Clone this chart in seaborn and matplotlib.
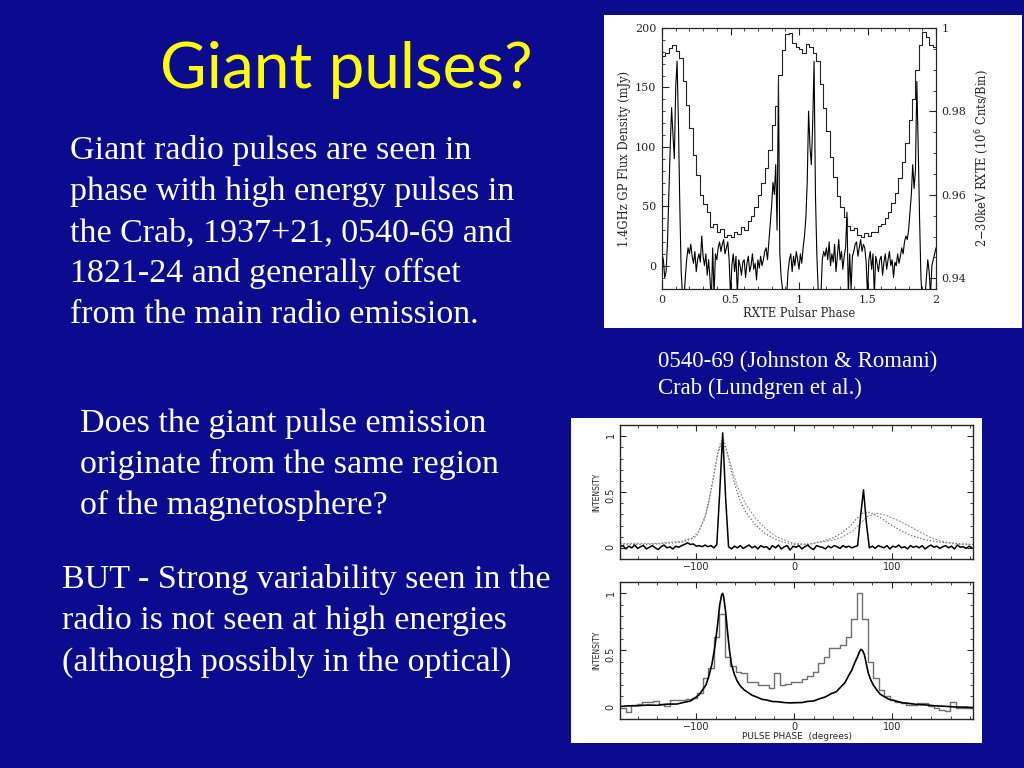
import numpy as np
import matplotlib
matplotlib.use("Agg")
from matplotlib import pyplot as plt
from matplotlib.patches import Rectangle
from matplotlib.ticker import MultipleLocator
import seaborn as sns

sns.set_style("ticks")
plt.rcParams['font.family'] = ['DejaVu Sans']

BG = '#0b0b8f'

# ---- slide text ----
title = "Giant pulses?"
block1 = ["Giant radio pulses are seen in",
          "phase with high energy pulses in",
          "the Crab, 1937+21, 0540-69 and",
          "1821-24 and generally offset",
          "from the main radio emission."]
block2 = ["Does the giant pulse emission",
          "originate from the same region",
          "of the magnetosphere?"]
block3 = ["BUT - Strong variability seen in the",
          "radio is not seen at high energies",
          "(although possibly in the optical)"]
caption = ["0540-69 (Johnston & Romani)", "Crab (Lundgren et al.)"]

# ---- PSR 0540-69: giant pulse flux (mJy), phase step 0.01 from 0 to 2 ----
radio_flux = [10, 5, -10, -5, 20, 60, 100, 133, 110, 90,
              150, 172, 120, 50, -5, -25, -30, -10, 5, 15,
              10, 18, 8, 2, 12, -5, 5, 10, 3, 25,
              8, 0, 10, -8, 5, -10, -30, 15, -25, 10,
              5, 15, 20, 12, 18, 22, 10, 15, 20, 5,
              -25, 0, 10, -5, 8, -25, 5, 0, -8, 3,
              5, -10, 2, 8, -5, 0, 10, -3, 2, -12,
              5, -2, 8, 0, 5, 12, 15, 5, 20, 35,
              50, 70, 60, 85, 30, 155, 10, -10, -20, -30,
              -30, -25, -5, 5, 10, -5, 8, 0, 12, 5,
              -3, 10, 2, 15, 25, 40, 70, 130, 100, 85,
              120, 172, 60, 10, -20, -30, -25, 5, 12, 8,
              15, 5, 20, 0, 10, 3, 18, -5, 8, 22,
              5, 12, -3, 8, 15, 45, -25, 10, -20, 8,
              12, 18, 20, 8, 15, 22, 12, 18, 15, 3,
              -25, 5, 12, -3, 10, -25, 8, 2, -5, 5,
              8, -8, 3, 10, -3, 5, 12, 0, 5, -10,
              3, 0, 10, 2, 8, 15, 10, 20, 25, 22,
              30, 45, 60, 85, 65, 80, 155, 100, 40, -10,
              -30, -28, -25, -10, 5, -5, -25, 0, 5, 10,
              15]
radio_phase = np.linspace(0, 2, len(radio_flux))

# RXTE 2-30 keV counts (10^6 cnts/bin), bins of 0.025 in phase
rxte_counts = [0.9934, 0.9940, 0.9952, 0.9960, 0.9945, 0.9928, 0.9872, 0.9815, 0.9760, 0.9695,
               0.9648, 0.9600, 0.9578, 0.9560, 0.9522, 0.9530, 0.9512, 0.9518, 0.9500, 0.9505,
               0.9498, 0.9510, 0.9506, 0.9522, 0.9515, 0.9538, 0.9550, 0.9572, 0.9600, 0.9628,
               0.9665, 0.9708, 0.9768, 0.9812, 0.9888, 0.9948, 0.9985, 0.9988, 0.9965, 0.9955,
               0.9950, 0.9940, 0.9962, 0.9955, 0.9940, 0.9920, 0.9865, 0.9808, 0.9752, 0.9690,
               0.9642, 0.9598, 0.9570, 0.9548, 0.9525, 0.9515, 0.9520, 0.9505, 0.9498, 0.9508,
               0.9502, 0.9512, 0.9510, 0.9525, 0.9530, 0.9545, 0.9560, 0.9580, 0.9605, 0.9640,
               0.9680, 0.9725, 0.9780, 0.9830, 0.9900, 0.9960, 0.9990, 0.9978, 0.9960, 0.9955]
rxte_edges = np.linspace(0, 2, len(rxte_counts) + 1)

# ---- Crab (Lundgren et al.) ----
# giant pulses, phase grid -178..182 deg step 3
crab_gp = [0.01, 0.02, -0.01, 0.015, 0.0, 0.025, -0.005, 0.01, 0.02, -0.01,
           0.005, 0.02, 0.0, -0.015, 0.01, 0.025, 0.0, 0.01, -0.01, 0.015,
           0.005, 0.02, 0.03, 0.045, 0.03, 0.035, 0.015, 0.02, 0.01, 0.025,
           0.01, 0.02, 0.0, 0.03, 0.5, 1.03, 0.45, 0.01, -0.01, 0.015,
           0.0, 0.02, -0.005, 0.01, 0.025, 0.0, 0.015, -0.01, 0.02, 0.005,
           0.01, -0.015, 0.02, 0.0, 0.025, -0.01, 0.01, 0.02, -0.02, 0.015,
           0.005, 0.02, -0.01, 0.01, 0.025, 0.0, -0.015, 0.02, 0.01, 0.005,
           -0.01, 0.015, 0.0, 0.02, 0.01, -0.005, 0.02, 0.005, 0.015, 0.0,
           0.01, 0.02, 0.28, 0.52, 0.22, 0.0, 0.015, -0.005, 0.02, 0.01,
           0.0, 0.02, -0.01, 0.015, 0.005, 0.025, 0.0, 0.01, -0.01, 0.02,
           0.005, 0.015, 0.0, 0.02, -0.01, 0.01, 0.025, 0.005, 0.015, -0.005,
           0.01, 0.02, 0.0, 0.015, -0.01, 0.025, 0.005, 0.01, -0.005, 0.015, 0.0]
crab_gp_phase = np.linspace(-178, 182, len(crab_gp))

# high energy profiles (dotted and dashed)
crab_dot_phase = [-178, -150, -130, -115, -105, -98, -92, -87, -82, -78, -75, -72, -69, -65, -60,
                  -55, -50, -40, -30, -20, -10, 0, 10, 20, 30, 40, 50, 58, 64, 70, 76, 82, 90,
                  100, 110, 120, 135, 150, 165, 183]
crab_dot = [0.03, 0.03, 0.04, 0.05, 0.08, 0.14, 0.25, 0.42, 0.65, 0.85, 0.95, 0.97, 0.88, 0.72, 0.55,
            0.42, 0.33, 0.21, 0.13, 0.08, 0.05, 0.03, 0.03, 0.04, 0.06, 0.09, 0.14, 0.2, 0.26, 0.31,
            0.32, 0.3, 0.26, 0.2, 0.15, 0.11, 0.07, 0.05, 0.04, 0.03]
crab_dash_phase = [-178, -140, -115, -100, -90, -83, -78, -74, -70, -65, -58, -50, -40, -30, -20,
                   -10, 0, 15, 25, 40, 50, 60, 68, 75, 85, 95, 110, 125, 140, 155, 170, 183]
crab_dash = [0.04, 0.04, 0.06, 0.1, 0.3, 0.6, 0.85, 0.93, 0.9, 0.75, 0.55, 0.4, 0.27, 0.18, 0.11,
             0.07, 0.04, 0.03, 0.05, 0.07, 0.1, 0.15, 0.22, 0.28, 0.31, 0.29, 0.23, 0.16, 0.09,
             0.05, 0.03, 0.03]

# lower panel: histogram (64 bins over 360 deg) and smooth profile
crab_hist = [0.0, -0.035, 0.025, 0.03, 0.045, 0.05, 0.06, 0.03, 0.01, 0.07,
             0.07, 0.07, 0.075, 0.08, 0.13, 0.26, 0.35, 0.62, 0.82, 0.44,
             0.36, 0.31, 0.3, 0.22, 0.22, 0.2, 0.2, 0.17, 0.3, 0.2,
             0.21, 0.225, 0.225, 0.25, 0.28, 0.31, 0.39, 0.44, 0.52, 0.52,
             0.55, 0.62, 0.78, 1.0, 0.78, 0.4, 0.26, 0.15, 0.1, 0.07,
             0.05, 0.04, 0.02, 0.02, 0.04, 0.04, 0.01, 0.0, -0.02, -0.03,
             0.05, 0.0, 0.0, 0.0]
crab_hist_edges = np.linspace(-178, 182, len(crab_hist) + 1)

crab_prof_phase = [-178, -170, -160, -150, -140, -130, -120, -112, -106, -101, -97, -93, -90, -87,
                   -84, -81, -78, -76, -74, -73, -72, -70, -68, -66, -64, -61, -58, -55, -51, -47,
                   -43, -38, -33, -28, -22, -16, -10, -4, 2, 8, 14, 20, 26, 32, 38, 43, 48, 52,
                   56, 59, 62, 65, 67, 68.5, 70, 72, 74, 76, 78, 81, 84, 88, 92, 97, 103, 110,
                   118, 126, 135, 145, 155, 165, 175, 183]
crab_prof = [0.01, 0.015, 0.016, 0.022, 0.02, 0.03, 0.031, 0.047, 0.058, 0.087, 0.113, 0.162, 0.2,
             0.28, 0.38, 0.53, 0.74, 0.9, 0.99, 1.0, 0.97, 0.84, 0.66, 0.5, 0.38, 0.29, 0.23,
             0.19, 0.155, 0.132, 0.108, 0.092, 0.073, 0.066, 0.053, 0.051, 0.044, 0.041, 0.043,
             0.044, 0.054, 0.058, 0.077, 0.093, 0.122, 0.138, 0.182, 0.218, 0.283, 0.327, 0.392,
             0.447, 0.492, 0.51, 0.5, 0.462, 0.38, 0.3, 0.252, 0.198, 0.162, 0.118, 0.097, 0.073,
             0.06, 0.044, 0.036, 0.027, 0.023, 0.015, 0.011, 0.005, 0.004, 0.0]


def box(x0, y0, x1, y1):
    # pixel box (top-left origin) -> figure fraction
    return [x0 / 1024, 1 - y1 / 768, (x1 - x0) / 1024, (y1 - y0) / 768]


fig = plt.figure(figsize=(10.24, 7.68), dpi=100, facecolor=BG)

# white backgrounds of the pasted figures
for b in [box(604, 15, 1022, 328), box(571, 418, 982, 743)]:
    fig.add_artist(Rectangle((b[0], b[1]), b[2], b[3], transform=fig.transFigure,
                             facecolor='white', edgecolor='none', zorder=0))

# ---- 0540-69 plot ----
ax1 = fig.add_axes(box(662, 28, 936, 289))
sns.lineplot(x=radio_phase, y=radio_flux, ax=ax1, color='black', lw=0.8)
ax1.set_xlim(0, 2)
ax1.set_ylim(-19.6, 200)
ax1.xaxis.set_major_locator(MultipleLocator(0.5))
ax1.xaxis.set_minor_locator(MultipleLocator(0.1))
ax1.yaxis.set_major_locator(MultipleLocator(50))
ax1.yaxis.set_minor_locator(MultipleLocator(10))
ax1.set_xticks([0, 0.5, 1, 1.5, 2], ['0', '0.5', '1', '1.5', '2'])
ax1.tick_params(which='both', direction='in', top=True, right=False,
                labelsize=8, labelfontfamily='DejaVu Serif', pad=4)
ax1.tick_params(which='major', length=5)
ax1.tick_params(which='minor', length=2.5)
ax1.set_xlabel('RXTE Pulsar Phase', fontsize=8.3, family='DejaVu Serif', labelpad=2)
ax1.set_ylabel('1.4GHz GP Flux Density (mJy)', fontsize=8.3, family='DejaVu Serif', labelpad=3)

ax2 = ax1.twinx()
sns.lineplot(x=rxte_edges, y=rxte_counts + [rxte_counts[-1]], ax=ax2,
             drawstyle='steps-post', color='#222222', lw=0.8)
ax2.set_ylim(0.93745, 1.0)
ax2.yaxis.set_major_locator(MultipleLocator(0.02))
ax2.yaxis.set_minor_locator(MultipleLocator(0.005))
ax2.set_yticks([0.94, 0.96, 0.98, 1.0], ['0.94', '0.96', '0.98', '1'])
ax2.tick_params(which='both', direction='in', labelsize=8,
                labelfontfamily='DejaVu Serif', pad=4)
ax2.tick_params(which='major', length=5)
ax2.tick_params(which='minor', length=2.5)
ax2.set_ylabel('2$-$30keV RXTE (10$^6$ Cnts/Bin)', fontsize=8.3, family='DejaVu Serif', labelpad=5)
for ax in (ax1, ax2):
    for s in ax.spines.values():
        s.set_linewidth(0.8)

# ---- Crab plots ----
ax3 = fig.add_axes(box(620, 425, 973, 559))
sns.lineplot(x=crab_dot_phase, y=crab_dot, ax=ax3, color='#666666', lw=0.9, linestyle=(0, (1, 1.6)))
sns.lineplot(x=crab_dash_phase, y=crab_dash, ax=ax3, color='#888888', lw=0.7, linestyle=(0, (2, 1.5)))
sns.lineplot(x=crab_gp_phase, y=crab_gp, ax=ax3, color='black', lw=1.1)

ax4 = fig.add_axes(box(620, 582, 973, 719))
sns.lineplot(x=crab_hist_edges, y=crab_hist + [crab_hist[-1]], ax=ax4,
             drawstyle='steps-post', color='#707070', lw=1.0)
sns.lineplot(x=crab_prof_phase, y=crab_prof, ax=ax4, color='black', lw=1.2)

for ax in (ax3, ax4):
    ax.set_xlim(-178, 183)
    ax.set_ylim(-0.1, 1.1)
    ax.set_xticks([-100, 0, 100])
    ax.xaxis.set_minor_locator(MultipleLocator(20))
    ax.set_yticks([0, 0.5, 1], ['0', '0.5', '1'])
    ax.yaxis.set_minor_locator(MultipleLocator(0.1))
    ax.tick_params(which='both', direction='in', top=True, right=True, labelsize=7, pad=2)
    ax.tick_params(axis='y', labelrotation=90, pad=3)
    ax.tick_params(which='major', length=4)
    ax.tick_params(which='minor', length=2)
    ax.set_ylabel('INTENSITY', fontsize=5.5, labelpad=3)
    ax.set_xlabel('')
    for s in ax.spines.values():
        s.set_linewidth(1.0)
ax4.set_xlabel('PULSE PHASE  (degrees)', fontsize=6.5, labelpad=0)

# ---- slide text ----
fig.text(160 / 1024, 1 - 88 / 768, title, color='#ffff00', fontsize=46,
         family='Lato', va='baseline')


def lines(txt, x, base, step, size=24.5):
    for i, t in enumerate(txt):
        fig.text(x / 1024, 1 - (base + i * step) / 768, t, color='white',
                 fontsize=size, family='Liberation Serif', va='baseline')


lines(block1, 70, 159, 41)
lines(block2, 80, 432, 41)
lines(block3, 62, 588, 41.5)
lines(caption, 658, 367, 27, size=16.4)

fig.savefig('out.png', dpi=100, facecolor=BG)
